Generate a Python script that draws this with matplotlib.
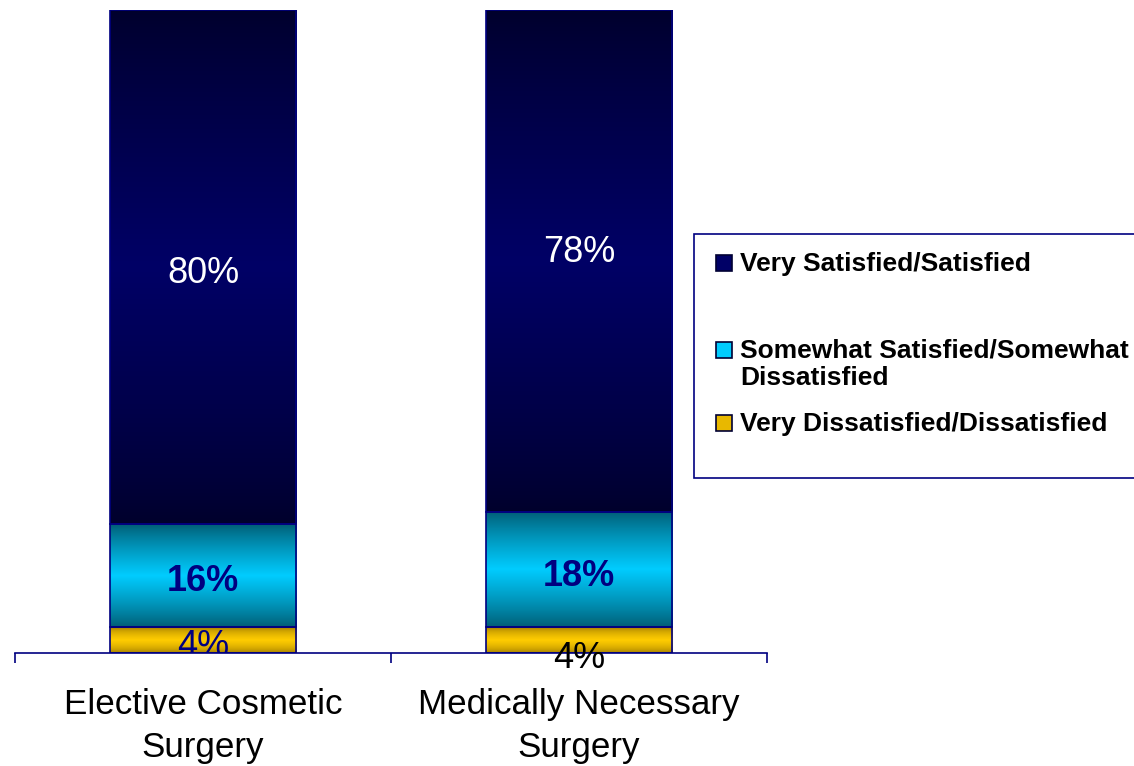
import numpy as np
import matplotlib
matplotlib.use("Agg")
import matplotlib.pyplot as plt
from matplotlib.patches import Rectangle

plt.rcParams['font.family'] = ['Liberation Sans', 'DejaVu Sans']

categories = ["Elective Cosmetic\nSurgery", "Medically Necessary\nSurgery"]
series_names = ["Very Satisfied/Satisfied",
                "Somewhat Satisfied/Somewhat\nDissatisfied",
                "Very Dissatisfied/Dissatisfied"]
very_dissatisfied = [4, 4]
somewhat = [16, 18]
very_satisfied = [80, 78]

W, H = 1134, 766
fig = plt.figure(figsize=(W / 100, H / 100), dpi=100)
ax = fig.add_axes([15 / W, 1 - 653 / H, (767 - 15) / W, (653 - 10) / H])

NAVY = "#000080"
x = np.arange(len(categories))
bw = 0.495

# gradient definitions: (edge colour, centre colour, exponent)
grads = {
    "vd": ((0.50, 0.38, 0.0), (1.0, 0.80, 0.0), 0.4),
    "sw": ((0.0, 0.36, 0.45), (0.0, 0.80, 1.0), 0.85),
    "vs": ((0.0, 0.0, 0.17), (0.0, 0.0, 0.40), 0.8),
}


def grad_img(edge, centre, p, n=256):
    t = np.linspace(0, 1, n)
    s = 1 - np.abs(2 * t - 1)
    s = s ** p
    e = np.array(edge)
    c = np.array(centre)
    cols = e[None, :] + (c - e)[None, :] * s[:, None]
    return cols[:, None, :]


bottoms = np.zeros(len(categories))
layers = [("vd", very_dissatisfied), ("sw", somewhat), ("vs", very_satisfied)]
bars_by_key = {}
for key, vals in layers:
    bars = ax.bar(x, vals, bw, bottom=bottoms, facecolor="none",
                  edgecolor=NAVY, linewidth=1.2, zorder=3)
    edge, centre, p = grads[key]
    img = grad_img(edge, centre, p)
    for b in bars:
        bx, by, bwid, bh = b.get_x(), b.get_y(), b.get_width(), b.get_height()
        im = ax.imshow(img, extent=[bx, bx + bwid, by, by + bh], origin="lower",
                       aspect="auto", zorder=2, interpolation="bilinear")
        im.set_clip_path(b)
    bars_by_key[key] = (bars, np.array(vals, dtype=float), bottoms.copy())
    bottoms = bottoms + np.array(vals)

ax.set_xlim(-0.5, 1.5)
ax.set_ylim(0, 100)

# value labels
label_style = {
    "vs": dict(color="white", fontsize=26, fontweight="normal"),
    "sw": dict(color=NAVY, fontsize=26, fontweight="bold"),
}
offsets = {("vs", 0): -6, ("vs", 1): 8, ("sw", 0): -6, ("sw", 1): -7}
for key in ("vs", "sw"):
    bars, vals, bots = bars_by_key[key]
    for i, (v, b0) in enumerate(zip(vals, bots)):
        ax.annotate(f"{v:.0f}%", (x[i], b0 + v / 2), xytext=(0, offsets[(key, i)] * 0.72),
                    textcoords="offset points", ha="center", va="center",
                    **label_style[key], zorder=5)

bars, vals, bots = bars_by_key["vd"]
t1 = ax.annotate(f"{vals[0]:.0f}%", (x[0], bots[0] + vals[0] / 2), xytext=(0, -6 * 0.72),
                 textcoords="offset points", ha="center", va="center",
                 color=NAVY, fontsize=26, zorder=5, annotation_clip=False)
t1.set_clip_on(True)
t1.set_clip_box(ax.bbox)
ax.annotate(f"{vals[1]:.0f}%", (x[1], bots[1] + vals[1] / 2), xytext=(0, -18 * 0.72),
            textcoords="offset points", ha="center", va="center",
            color="black", fontsize=26, zorder=5, annotation_clip=False)

# axes styling
for s in ("top", "right", "left"):
    ax.spines[s].set_visible(False)
ax.spines["bottom"].set_color(NAVY)
ax.spines["bottom"].set_linewidth(1.2)
ax.spines["bottom"].set_zorder(4)
ax.set_yticks([])
ax.set_xticks([-0.5, 0.5, 1.5])
ax.set_xticklabels([])
ax.tick_params(axis="x", which="major", length=7, width=1.2, color=NAVY, direction="out")
ax.set_xticks(x, minor=True)
ax.set_xticklabels(categories, minor=True, fontsize=25.2, linespacing=1.38)
ax.tick_params(axis="x", which="minor", length=0, pad=25.5)
ax.patch.set_alpha(0)

# legend (drawn manually)
def fx(px):
    return px / W


def fy(py):
    return 1 - py / H


fig.patches.append(Rectangle((fx(694), fy(478)), fx(1200) - fx(694), fy(234) - fy(478),
                             transform=fig.transFigure, facecolor="white",
                             edgecolor=NAVY, linewidth=1.2, zorder=1))
marker_cols = ["#000066", "#00CCFF", "#E8B800"]
item_y = [263, 350, 423]
for name, col, yc in zip(series_names, marker_cols, item_y):
    fig.patches.append(Rectangle((fx(716), fy(yc + 8)), fx(732) - fx(716), fy(yc - 8) - fy(yc + 8),
                                 transform=fig.transFigure, facecolor=col,
                                 edgecolor="#000033", linewidth=1.2, zorder=2))
    fig.text(fx(740), fy(yc - 11), name, ha="left", va="top", fontsize=19,
             fontweight="bold", color="black", linespacing=1.14, zorder=3)

fig.savefig("out.png", dpi=100)
